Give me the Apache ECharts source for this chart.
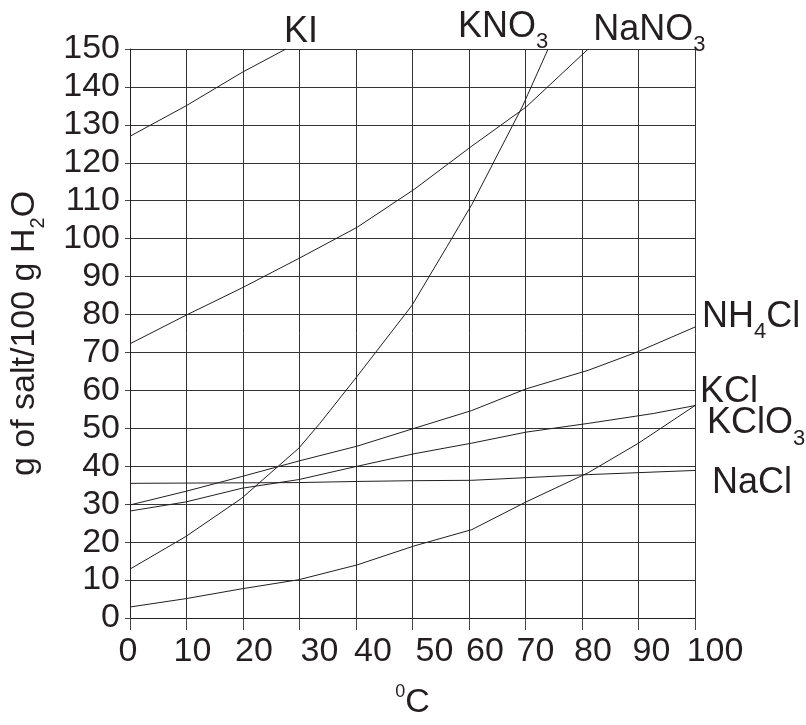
<!DOCTYPE html>
<html>
<head>
<meta charset="utf-8">
<script src="https://cdn.jsdelivr.net/npm/echarts@6/dist/echarts.min.js"></script>
<style>html,body{margin:0;padding:0;background:#fff}#c{width:806px;height:725px}</style>
</head>
<body>
<div id="c"></div>
<script>
// Temperature (deg C) vs solubility (g of salt / 100 g H2O)
var xTicks = [0, 10, 20, 30, 40, 50, 60, 70, 80, 90, 100];
var yTicks = [0, 10, 20, 30, 40, 50, 60, 70, 80, 90, 100, 110, 120, 130, 140, 150];

var kiData    = [[0,127],[9.9,135],[19.8,143.8],[27.6,150]];
var kno3Data  = [[0,12.9],[9.9,21.5],[19.8,31.6],[29.9,44.8],[33.6,51.3],[40.2,63.7],[49.9,82.4],[56.1,97.9],[60.5,109],[69.5,135],[74,150]];
var nano3Data = [[0,72.3],[9.9,79.8],[19.8,87],[29.9,94.8],[40.2,103],[50.3,113],[60.5,124.4],[70.1,134.7],[81.1,150]];
var nh4clData = [[0,29.8],[9.9,33.4],[19.8,37.3],[29.9,41.4],[40.2,45.3],[50.3,50],[60.5,54.7],[70.1,60.4],[81.1,65.3],[89.9,70.2],[100,76.7]];
var kclData   = [[0,28.2],[9.9,30.6],[19.8,34.2],[29.9,36.5],[40.2,40],[50.3,43.3],[60.5,46.1],[70.1,49],[81.1,51.3],[92.6,53.9],[100,56]];
var kclo3Data = [[0,2.9],[9.9,5.1],[19.8,7.7],[29.9,10.1],[40.2,14],[50.3,19],[60.5,23.3],[70.1,30.6],[81.1,38.3],[89.9,46],[100,56]];
var naclData  = [[0,35.5],[29.9,35.7],[40.2,36],[50.3,36.2],[60.5,36.3],[81.1,37.8],[100,38.9]];

// horizontal nudge (px) of each x tick label, as in the original drawing
var xLabelNudge = [-2, 6, 11, 20, 17, 22, 16, 10, 11, 13, 20];

var FONT = 'Liberation Sans';
var INK = '#231f20';
var subStyle = { fontSize: 22, fontFamily: FONT, color: INK, padding: [30, 0, 0, 0] };

var xRich = {};
xLabelNudge.forEach(function (s, i) {
  xRich['n' + i] = { fontSize: 34, fontFamily: FONT, color: INK,
    padding: s >= 0 ? [0, 0, 0, 2 * s] : [0, -2 * s, 0, 0] };
});

function mkSeries(name, data, label, offset) {
  return {
    type: 'line', name: name, data: data, symbol: 'none', smooth: false,
    lineStyle: { color: INK, width: 1 }, silent: true, animation: false,
    endLabel: {
      show: true, formatter: label, color: INK, fontFamily: FONT, fontSize: 36,
      align: 'left', verticalAlign: 'middle', offset: offset, distance: 0,
      rich: { sub: subStyle }
    }
  };
}

var chart = echarts.init(document.getElementById('c'), null, { renderer: 'canvas' });
chart.setOption({
  animation: false,
  backgroundColor: '#fff',
  grid: { left: 130, top: 49, width: 565, height: 579, containLabel: false },
  xAxis: {
    type: 'value', min: 0, max: 100, interval: 10,
    name: '{sup|0}C', nameLocation: 'middle', nameGap: 65,
    nameTextStyle: { fontSize: 34, fontFamily: FONT, color: INK,
      rich: { sup: { fontSize: 18, fontFamily: FONT, color: INK, padding: [0, 0, 22, 0] } } },
    axisLine: { show: true, lineStyle: { color: INK, width: 1 } },
    axisTick: { show: true, length: 12, lineStyle: { color: '#444', width: 1 } },
    splitLine: { show: true, lineStyle: { color: '#333', width: 1 } },
    axisLabel: { fontSize: 34, fontFamily: FONT, color: INK, margin: 17, rich: xRich,
      formatter: function (v) { var i = xTicks.indexOf(v); return i >= 0 ? '{n' + i + '|' + v + '}' : ''; } }
  },
  yAxis: {
    type: 'value', min: 0, max: 150, interval: 10,
    name: 'g of salt/100 g H{sub|2}O', nameLocation: 'middle', nameRotate: 90, nameGap: 82,
    nameTextStyle: { fontSize: 34, fontFamily: FONT, color: INK,
      rich: { sub: { fontSize: 20, fontFamily: FONT, color: INK, padding: [26, 0, 0, 0] } } },
    axisLine: { show: true, lineStyle: { color: INK, width: 1 } },
    axisTick: { show: true, length: 5, lineStyle: { color: '#444', width: 1 } },
    splitLine: { show: true, lineStyle: { color: '#333', width: 1 } },
    axisLabel: { fontSize: 34, fontFamily: FONT, color: INK, margin: 10,
      formatter: function (v) { return yTicks.indexOf(v) >= 0 ? String(v) : ''; } }
  },
  series: [
    mkSeries('KI', kiData, 'KI', [-2, -17]),
    mkSeries('KNO3', kno3Data, 'KNO{sub|3}', [-90, -22]),
    mkSeries('NaNO3', nano3Data, 'NaNO{sub|3}', [5, -19]),
    mkSeries('NH4Cl', nh4clData, 'NH{sub|4}Cl', [7, -10]),
    mkSeries('KCl', kclData, 'KCl', [5, -13]),
    mkSeries('KClO3', kclo3Data, 'KClO{sub|3}', [12, 18]),
    mkSeries('NaCl', naclData, 'NaCl', [17, 13])
  ]
});
</script>
</body>
</html>
